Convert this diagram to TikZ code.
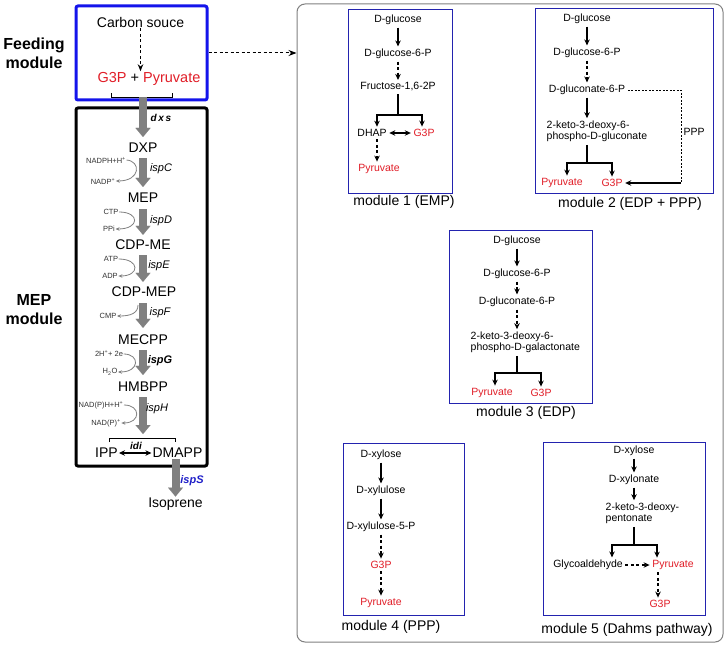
\documentclass[tikz,border=0pt]{standalone}
\usepackage{fontspec}
\setmainfont{Liberation Sans}
\usepackage{xcolor}
\usepackage{tikz}
\usetikzlibrary{arrows, arrows.meta, positioning, calc}
\definecolor{feedblue}{RGB}{20, 20, 235}
\definecolor{modblue}{RGB}{35, 35, 175}
\definecolor{metred}{RGB}{225, 30, 40}
\definecolor{enzgray}{RGB}{128, 128, 128}
\definecolor{ispsblue}{RGB}{30, 30, 200}

\tikzset{
    met/.style={font=\fontsize{14}{16}\selectfont, inner sep=1pt},
    cof/.style={font=\fontsize{7.5}{9}\selectfont, text=black!80, inner sep=0.5pt},
    gene/.style={font=\fontsize{11}{13}\selectfont\itshape, inner sep=1pt},
    cpd/.style={font=\fontsize{10.5}{11.5}\selectfont, inner sep=2.5pt},
    hot/.style={text=metred},
    modbox/.style={draw=modblue, line width=0.9pt},
    modcap/.style={font=\fontsize{14}{16}\selectfont},
    fatarrow/.style={draw=enzgray, line width=8pt, shorten <=4pt, shorten >=5pt,
        -{Triangle[width=15pt, length=9pt, line width=0.01pt]}},
    sidearc/.style={draw=enzgray, line width=0.8pt, -{Stealth[length=4pt, width=3.5pt]}},
    solidarr/.style={line width=1.25pt, -{Stealth[length=6pt, width=5.5pt]}},
    dasharr/.style={line width=1.25pt, dash pattern=on 3pt off 2.5pt, -{Stealth[length=6pt, width=5.5pt]}},
    dblarr/.style={line width=1.3pt, {Stealth[length=6pt, width=5.5pt]}-{Stealth[length=6pt, width=5.5pt]}}
}

\begin{document}
\begin{tikzpicture}[x=1pt, y=-1pt]
    \useasboundingbox[fill=white] (0,0) rectangle (727,647);

    % Module labels
    \node[align=center, font=\fontsize{16}{19}\selectfont\bfseries] (feedlab) at (34,53) {Feeding\\module};
    \node[align=center, font=\fontsize{16}{19}\selectfont\bfseries] (meplab) at (34,310) {MEP\\module};

    % Boxes
    \node[draw=feedblue, line width=3pt, rounded corners=2pt, minimum width=131pt, minimum height=94pt] (feedbox) at (141.5,53) {};
    \node[draw=black, line width=3pt, rounded corners=2pt, minimum width=131pt, minimum height=358pt] (mepbox) at (141.5,287) {};
    \node[draw=enzgray, line width=1pt, rounded corners=8pt, minimum width=426pt, minimum height=638pt] (frame) at (510,323) {};
    \draw[line width=1pt, dash pattern=on 3pt off 2.5pt, -{Stealth[length=8pt, width=6pt]}] (feedbox.east) -- (feedbox.east -| frame.west);

    % Feeding module
    \node[met] (csrc) at (140.5,22) {Carbon souce};
    \node[met, font=\fontsize{14.5}{16}\selectfont] (gp) at (149,79) {{\color{metred}G3P} + {\color{metred}Pyruvate}};
    \draw[dasharr, -{Stealth[length=7pt, width=5.5pt]}] (csrc.south) -- (csrc.south |- gp.north);
    \draw[line width=0.9pt] (111,93) -- (111,97) -- (172,97) -- (172,93);
    \coordinate (brk1) at (143,97);

    % MEP pathway
    \node[met] (dxp) at (143,148) {DXP};
    \node[met] (mep) at (143,198) {MEP};
    \node[met] (cdpme) at (143,245) {CDP-ME};
    \node[met] (cdpmep) at (144,292) {CDP-MEP};
    \node[met] (mecpp) at (143,340) {MECPP};
    \node[met] (hmbpp) at (143,387) {HMBPP};
    \node[met] (ipp) at (106.5,453) {IPP};
    \node[met] (dmapp) at (177.5,453) {DMAPP};
    \node[met] (iso) at (175.5,504) {Isoprene};
    \coordinate (brk2) at (143,434);

    \draw[fatarrow, shorten <=0pt] (brk1) -- (dxp);
    \draw[fatarrow] (dxp) -- (mep);
    \draw[fatarrow, shorten <=5pt, shorten >=4pt] (mep) -- (cdpme);
    \draw[fatarrow, shorten >=4pt] (cdpme) -- (cdpme |- cdpmep.north);
    \draw[fatarrow, shorten <=5pt, shorten >=6pt] (mecpp |- cdpmep.south) -- (mecpp);
    \draw[fatarrow, shorten >=6pt] (mecpp) -- (hmbpp);
    \draw[fatarrow, shorten >=0pt] (hmbpp) -- (brk2);
    \draw[fatarrow, shorten <=0pt, shorten >=0pt] (iso.north |- dmapp.south) -- (iso.north);

    % Enzymes
    \node[font=\fontsize{10}{12}\selectfont\bfseries\itshape] (dxs) at (161,118) {d\,x\,s};
    \node[gene] (ispc) at (161,169) {ispC};
    \node[gene] (ispd) at (161,221) {ispD};
    \node[gene] (ispe) at (159,266) {ispE};
    \node[gene] (ispf) at (160,313) {ispF};
    \node[gene, font=\fontsize{11}{13}\selectfont\bfseries\itshape] (ispg) at (160,361) {ispG};
    \node[gene] (isph) at (157,409) {ispH};
    \node[font=\fontsize{11}{13}\selectfont\bfseries\itshape, text=ispsblue] (isps) at (192,481) {ispS};

    % Cofactors
    \node[cof] (nadph) at (106,160) {NADPH+H\textsuperscript{+}};
    \node[cof] (nadp) at (103,181) {NADP\textsuperscript{+}};
    \node[cof] (ctp) at (111,212) {CTP};
    \node[cof] (ppi) at (109,229) {PPi};
    \node[cof] (atp) at (111,259) {ATP};
    \node[cof] (adp) at (110,276) {ADP};
    \node[cof] (cmp) at (108,316) {CMP};
    \node[cof] (hpe) at (109,354) {2H\textsuperscript{+}+ 2e};
    \node[cof] (water) at (110,372) {H\textsubscript{2}O};
    \node[cof] (nadh) at (101,405) {NAD(P)H+H\textsuperscript{+}};
    \node[cof] (nad) at (106,423) {NAD(P)\textsuperscript{+}};
    \coordinate (ispfin) at (138,305);

    \draw[sidearc] (nadph.east) .. controls (141,161) and (141,181) .. (nadp.east);
    \draw[sidearc] (ctp.east) .. controls (140,212) and (140,229) .. (ppi.east);
    \draw[sidearc] (atp.east) .. controls (140,259) and (140,276) .. (adp.east);
    \draw[sidearc] (ispfin) .. controls (138,313) and (131,316) .. (cmp.east);
    \draw[sidearc] (hpe.east) .. controls (140,354) and (140,372) .. (water.east);
    \draw[sidearc] (nadh.east) .. controls (141,405) and (141,423) .. (nad.east);

    % IPP / DMAPP
    \draw[line width=0.9pt] (109,442) -- (109,438) -- (175,438) -- (175,442);
    \node[font=\fontsize{10}{12}\selectfont\bfseries\itshape] (idi) at (136,446) {idi};
    \draw[dblarr] (ipp) -- (dmapp);

    % module 1 (EMP)
    \node[modbox, minimum width=104pt, minimum height=184pt] (m1) at (400,101) {};
    \node[cpd] (glc1) at (398,20) {D-glucose};
    \node[cpd] (g6p1) at (398,54) {D-glucose-6-P};
    \node[cpd] (fru1) at (398,87) {Fructose-1,6-2P};
    \node[cpd] (dhap1) at (372,133) {DHAP};
    \node[cpd, hot] (g3p1) at (424,133) {G3P};
    \node[cpd, hot] (pyr1) at (379,169) {Pyruvate};
    \coordinate (br1) at (398,115);
    \draw[solidarr] (glc1) -- (g6p1);
    \draw[dasharr] (g6p1) -- (fru1);
    \draw[line width=1.25pt] (fru1) -- (br1);
    \draw[solidarr] (br1) -| ([xshift=5pt]dhap1.north);
    \draw[solidarr] (br1) -| ([xshift=-2pt]g3p1.north);
    \draw[dblarr, line width=1.1pt] (dhap1) -- (g3p1);
    \draw[dasharr] ([xshift=5pt]dhap1.south) -- ([xshift=-2pt]pyr1.north);
    \node[modcap] (cap1) at (404,202) {module 1 (EMP)};

    % module 2 (EDP + PPP)
    \node[modbox, minimum width=178pt, minimum height=185pt] (m2) at (624,100.5) {};
    \node[cpd] (glc2) at (587,19) {D-glucose};
    \node[cpd] (g6p2) at (587,53) {D-glucose-6-P};
    \node[cpd] (gcn2) at (587,90) {D-gluconate-6-P};
    \node[cpd, align=left, anchor=west] (kdpg2) at (544,131.5) {2-keto-3-deoxy-6-\\phospho-D-gluconate};
    \node[cpd, hot] (pyr2) at (562,183) {Pyruvate};
    \node[cpd, hot] (g3p2) at (612,183) {G3P};
    \node[cpd] (ppp2) at (694,132) {PPP};
    \coordinate (br2) at (587,163);
    \coordinate (ppc2) at (681,183);
    \draw[solidarr] (glc2) -- (g6p2);
    \draw[dasharr] (g6p2) -- (gcn2);
    \draw[solidarr] (gcn2) -- (gcn2 |- kdpg2.north);
    \draw[line width=1.25pt] (br2 |- kdpg2.south) -- (br2);
    \draw[solidarr] (br2) -| ([xshift=5pt]pyr2.north);
    \draw[solidarr] (br2) -| (g3p2.north);
    \draw[line width=0.8pt, dash pattern=on 2pt off 1.5pt] (gcn2.east) -| (ppc2);
    \draw[solidarr] (ppc2) -- (g3p2.east);
    \node[modcap] (cap2) at (630,204) {module 2 (EDP + PPP)};

    % module 3 (EDP)
    \node[modbox, minimum width=143pt, minimum height=173pt] (m3) at (520.5,316.5) {};
    \node[cpd] (glc3) at (517,241) {D-glucose};
    \node[cpd] (g6p3) at (517,274) {D-glucose-6-P};
    \node[cpd] (gcn3) at (517,302) {D-gluconate-6-P};
    \node[cpd, align=left, anchor=west] (kdpg3) at (468,342.5) {2-keto-3-deoxy-6-\\phospho-D-galactonate};
    \node[cpd, hot] (pyr3) at (492,393) {Pyruvate};
    \node[cpd, hot] (g3p3) at (541,393) {G3P};
    \coordinate (br3) at (517,373);
    \draw[solidarr] (glc3) -- (g6p3);
    \draw[dasharr] (g6p3) -- (gcn3);
    \draw[dasharr] (gcn3) -- (gcn3 |- kdpg3.north);
    \draw[line width=1.25pt] (br3 |- kdpg3.south) -- (br3);
    \draw[solidarr] (br3) -| ([xshift=3pt]pyr3.north);
    \draw[solidarr] (br3) -| (g3p3.north);
    \node[modcap] (cap3) at (526,413) {module 3 (EDP)};

    % module 4 (PPP)
    \node[modbox, minimum width=121pt, minimum height=172pt] (m4) at (403.5,529) {};
    \node[cpd] (xyl4) at (381,455) {D-xylose};
    \node[cpd] (xlu4) at (381,491) {D-xylulose};
    \node[cpd] (x5p4) at (381,527) {D-xylulose-5-P};
    \node[cpd, hot] (g3p4) at (381,565) {G3P};
    \node[cpd, hot] (pyr4) at (381,603) {Pyruvate};
    \draw[solidarr] (xyl4) -- (xlu4);
    \draw[solidarr] (xlu4) -- (x5p4);
    \draw[dasharr] (x5p4) -- (g3p4);
    \draw[dasharr] (g3p4) -- (pyr4);
    \node[modcap] (cap4) at (391,627) {module 4 (PPP)};

    % module 5 (Dahms pathway)
    \node[modbox, minimum width=162pt, minimum height=173pt] (m5) at (624,528.5) {};
    \node[cpd] (xyl5) at (634,451) {D-xylose};
    \node[cpd] (xln5) at (634,480) {D-xylonate};
    \node[cpd, align=left, anchor=west] (kdp5) at (603,513.5) {2-keto-3-deoxy-\\pentonate};
    \node[cpd] (gly5) at (588,565) {Glycoaldehyde};
    \node[cpd, hot] (pyr5) at (673,565) {Pyruvate};
    \node[cpd, hot] (g3p5) at (660,604) {G3P};
    \coordinate (br5) at (634,545);
    \draw[solidarr] (xyl5) -- (xln5);
    \draw[solidarr] (xln5) -- (xln5 |- kdp5.north);
    \draw[line width=1.25pt] (br5 |- kdp5.south) -- (br5);
    \draw[solidarr] (br5) -| ([xshift=24pt]gly5.north);
    \draw[solidarr] (br5) -| ([xshift=-16pt]pyr5.north);
    \draw[dasharr] (gly5) -- (pyr5);
    \draw[dasharr] ([xshift=-15pt]pyr5.south) -- ([xshift=-2pt]g3p5.north);
    \node[modcap] (cap5) at (627,630) {module 5 (Dahms pathway)};
\end{tikzpicture}
\end{document}
